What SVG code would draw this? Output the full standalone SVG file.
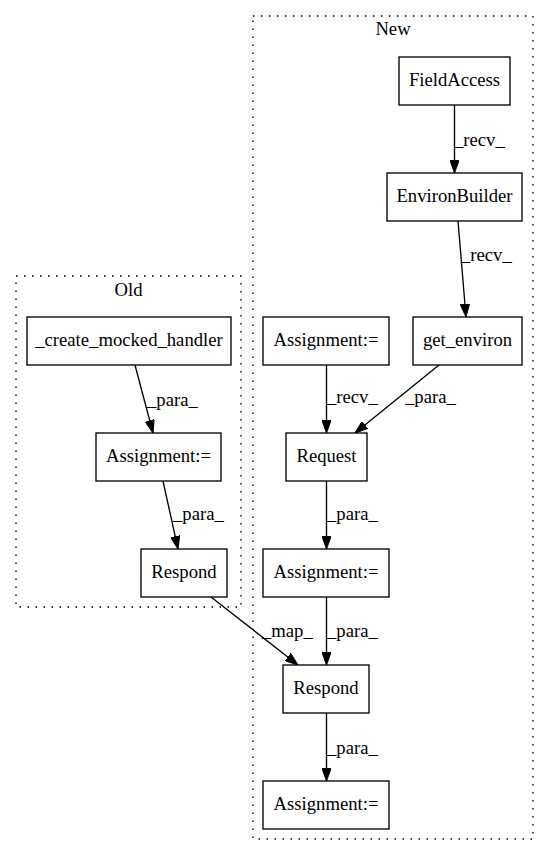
<svg xmlns="http://www.w3.org/2000/svg" width="549" height="856" viewBox="0 0 549 856">
<style>
text{font-family:"Liberation Serif","Times New Roman",serif;font-size:18.67px;fill:#000}
.n rect{fill:#fff;stroke:#000;stroke-width:1.33}
.n text{text-anchor:middle}
.c{fill:none;stroke:#000;stroke-width:1.33;stroke-dasharray:1.5,6.5}
.e path{fill:none;stroke:#000;stroke-width:1.33;marker-end:url(#a)}
.ct{text-anchor:middle}
</style>
<defs>
<marker id="a" viewBox="0 0 13 9.33" refX="13" refY="4.67" markerWidth="13" markerHeight="9.33" orient="auto" markerUnits="userSpaceOnUse">
<path d="M0,0 L13,4.67 L0,9.33 z" fill="#000" stroke="#000" stroke-width="1"/>
</marker>
</defs>
<rect width="549" height="856" fill="#fff"/>
<g id="cluster_old">
<rect class="c" x="16" y="276" width="225" height="331"/>
<text class="ct" x="128.5" y="296">Old</text>
</g>
<g id="cluster_new">
<rect class="c" x="253" y="16" width="280" height="823"/>
<text class="ct" x="393" y="35">New</text>
</g>
<g id="edges" class="e">
<path d="M135,365 L153,433"/>
<path d="M163,481 L178,549"/>
<path d="M454.5,105 L454.5,173"/>
<path d="M458,221 L466,317"/>
<path d="M326.5,365 L326.5,433"/>
<path d="M439,365 L355,433"/>
<path d="M326.5,481 L326.5,549"/>
<path d="M326.5,597 L326.5,665"/>
<path d="M211,597 L298,665"/>
<path d="M326.5,713 L326.5,781"/>
<text x="147" y="406">_para_</text>
<text x="173" y="520">_para_</text>
<text x="454" y="146">_recv_</text>
<text x="461" y="261">_recv_</text>
<text x="327" y="403">_recv_</text>
<text x="405" y="403">_para_</text>
<text x="327" y="520">_para_</text>
<text x="262" y="637">_map_</text>
<text x="327" y="637">_para_</text>
<text x="327" y="754">_para_</text>
</g>
<g id="create_mocked_handler" class="n"><rect x="27" y="317" width="204" height="48"/><text x="129" y="346">_create_mocked_handler</text></g>
<g id="old_assignment" class="n"><rect x="96" y="433" width="125" height="48"/><text x="158.5" y="462">Assignment:=</text></g>
<g id="old_respond" class="n"><rect x="141" y="549" width="86" height="48"/><text x="184" y="578">Respond</text></g>
<g id="field_access" class="n"><rect x="399" y="57" width="111" height="48"/><text x="454.5" y="86">FieldAccess</text></g>
<g id="environ_builder" class="n"><rect x="387" y="173" width="135" height="48"/><text x="454.5" y="202">EnvironBuilder</text></g>
<g id="get_environ" class="n"><rect x="413" y="317" width="109" height="48"/><text x="467.5" y="346">get_environ</text></g>
<g id="new_assignment1" class="n"><rect x="263" y="317" width="126" height="48"/><text x="326" y="346">Assignment:=</text></g>
<g id="request" class="n"><rect x="286" y="433" width="81" height="48"/><text x="326.5" y="462">Request</text></g>
<g id="new_assignment2" class="n"><rect x="263" y="549" width="126" height="48"/><text x="326" y="578">Assignment:=</text></g>
<g id="new_respond" class="n"><rect x="283" y="665" width="86" height="48"/><text x="326" y="694">Respond</text></g>
<g id="new_assignment3" class="n"><rect x="263" y="781" width="126" height="48"/><text x="326" y="810">Assignment:=</text></g>
</svg>
